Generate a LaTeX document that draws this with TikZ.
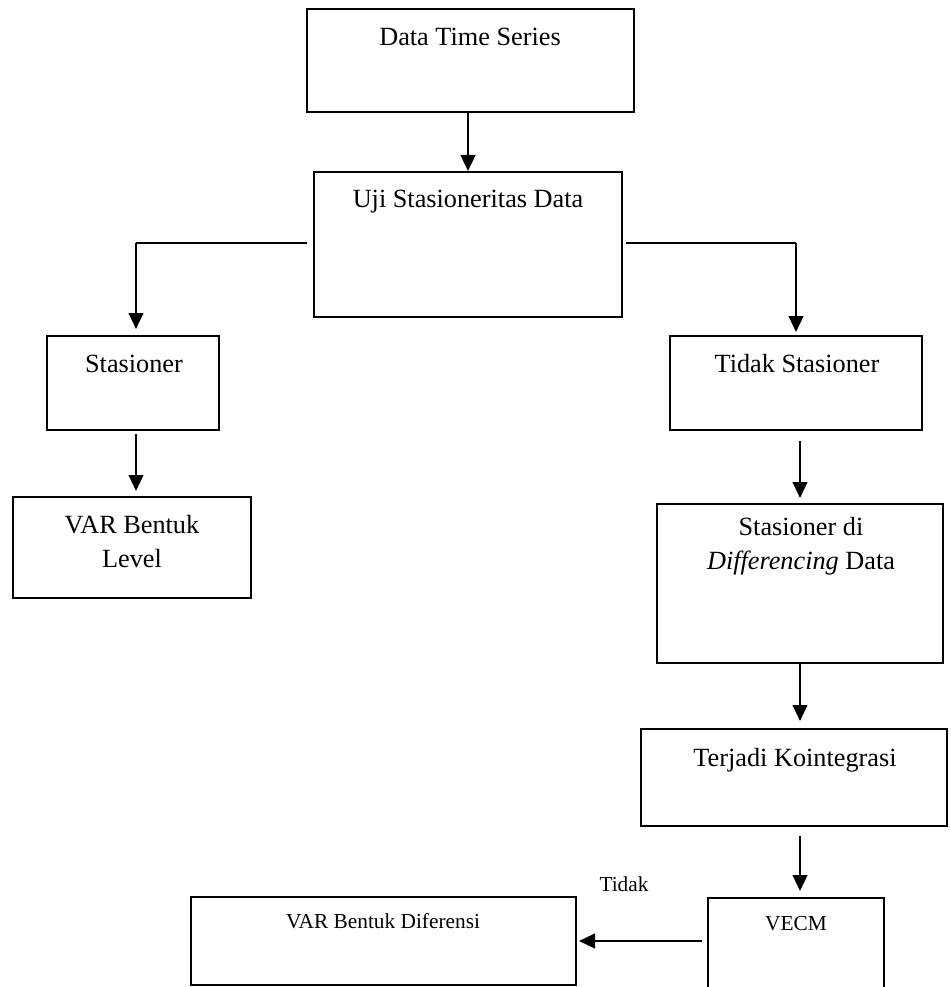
\documentclass[tikz,border=0pt]{standalone}
\usepackage{fontspec}
\setmainfont{Liberation Serif}
\usetikzlibrary{arrows.meta,fit}
\begin{document}
\begin{tikzpicture}[x=0.75pt,y=-0.75pt,
  box/.style={draw, line width=1.5pt, inner sep=0pt},
  big/.style={font=\fontsize{19.7}{25.5}\selectfont, inner sep=0pt, align=center},
  small/.style={font=\fontsize{16}{19}\selectfont, inner sep=0pt},
  arr/.style={line width=1.8pt, -{Triangle[width=11pt,length=12pt]}},
  ln/.style={line width=1.2pt}]
\useasboundingbox (0,0) rectangle (950,987);
\clip (0,0) rectangle (950,987);
% boxes
\node[box, fit={(307,9) (634,112)}] (A) {};
\node[box, fit={(314,172) (622,317)}] (B) {};
\node[box, fit={(47,336) (219,430)}] (C) {};
\node[box, fit={(13,497) (251,598)}] (D) {};
\node[box, fit={(670,336) (922,430)}] (E) {};
\node[box, fit={(657,504) (943,663)}] (F) {};
\node[box, fit={(641,729) (947,826)}] (G) {};
\node[box, fit={(708,898) (884,1010)}] (H) {};
\node[box, fit={(191,897) (576,985)}] (I) {};
% texts
\node[big, anchor=base] (At) at (470,46) {Data Time Series};
\node[big, anchor=base] (Bt) at (468,208) {Uji Stasioneritas Data};
\node[big, anchor=base] (Ct) at (134,372) {Stasioner};
\node[big, anchor=north] (Dt) at (132,515) {VAR Bentuk\\Level};
\node[big, anchor=base] (Et) at (797,372) {Tidak Stasioner};
\node[big, anchor=north] (Ft) at (801,517) {Stasioner di\\\textit{Differencing} Data};
\node[big, anchor=base] (Gt) at (795,766) {Terjadi Kointegrasi};
\node[small, anchor=base] (Ht) at (796,930) {VECM};
\node[small, anchor=base] (It) at (383,928) {VAR Bentuk Diferensi};
\node[small, anchor=base] (T) at (624,891) {Tidak};
% connectors
\draw[arr] (B.north |- A.south) -- (B.north);
\coordinate (bl) at (136,243);
\coordinate (br) at (796,243);
\draw[ln, shorten <=4.5pt] (B.west |- bl) -- (bl);
\draw[arr, shorten >=4.5pt] (bl) -- (bl |- C.north);
\draw[ln, shorten <=2pt] (B.east |- br) -- (br);
\draw[arr, shorten >=2.25pt] (br) -- (br |- E.north);
\draw[arr, shorten <=2.25pt, shorten >=3.75pt] (bl |- C.south) -- (bl |- D.north);
\draw[arr, shorten <=7.5pt, shorten >=3.75pt] (F.north |- E.south) -- (F.north);
\draw[arr, shorten >=5.25pt] (F.south) -- (F.south |- G.north);
\draw[arr, shorten <=6.75pt, shorten >=4.5pt] (F.south |- G.south) -- (F.south |- H.north);
\draw[arr, shorten <=3.75pt, shorten >=1.5pt] (I.east -| H.west) -- (I.east);
\end{tikzpicture}
\end{document}
